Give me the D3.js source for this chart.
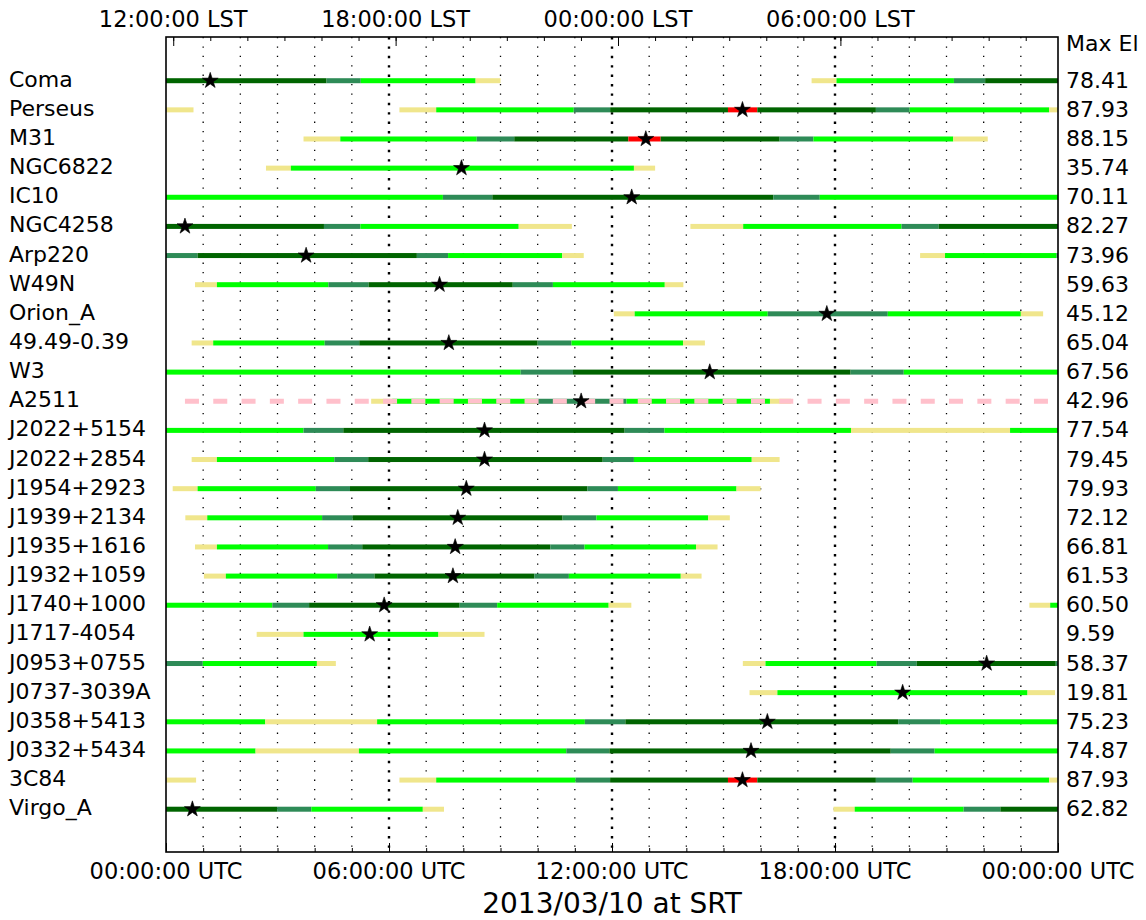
<!DOCTYPE html>
<html>
<head>
<meta charset="utf-8">
<script src="https://cdn.jsdelivr.net/npm/d3@7"></script>
<style>
    body { margin: 0; background: #fff; }
    svg { display: block; }
</style>
</head>
<body>
<svg id="chart" width="1146" height="920"></svg>
<script>
const LEFT = 166, RIGHT = 1058, TOP = 37, BOTTOM = 852

// sources, top to bottom
const sources = ["Coma", "Perseus", "M31", "NGC6822", "IC10", "NGC4258", "Arp220", "W49N", "Orion_A",
    "49.49-0.39", "W3", "A2511", "J2022+5154", "J2022+2854", "J1954+2923", "J1939+2134", "J1935+1616",
    "J1932+1059", "J1740+1000", "J1717-4054", "J0953+0755", "J0737-3039A", "J0358+5413", "J0332+5434",
    "3C84", "Virgo_A"]

const maxEl = ["78.41", "87.93", "88.15", "35.74", "70.11", "82.27", "73.96", "59.63", "45.12",
    "65.04", "67.56", "42.96", "77.54", "79.45", "79.93", "72.12", "66.81",
    "61.53", "60.50", "9.59", "58.37", "19.81", "75.23", "74.87",
    "87.93", "62.82"]

// transit time (UTC hours)
const transits = [1.19, 15.51, 12.91, 7.95, 12.53, 0.51, 3.77, 7.36, 17.78,
    7.61, 14.63, 11.17, 8.57, 8.57, 8.08, 7.85, 7.78,
    7.72, 5.87, 5.48, 22.08, 19.82, 16.18, 15.74,
    15.51, 0.71]

// visibility tracks: [start UTC h, end UTC h, elevation class]
// k = low, l = ok, s = high, d = very high, r = near zenith
const segments = [
    [[0, 4.32, "d"], [4.32, 5.24, "s"], [5.24, 8.33, "l"], [8.33, 9.0, "k"], [17.37, 18.04, "k"], [18.04, 21.20, "l"], [21.20, 22.04, "s"], [22.04, 24, "d"]],
    [[0, 0.74, "k"], [6.28, 7.27, "k"], [7.27, 10.97, "l"], [10.97, 11.95, "s"], [11.95, 15.12, "d"], [15.12, 15.91, "r"], [15.91, 19.10, "d"], [19.10, 20.01, "s"], [20.01, 23.76, "l"], [23.76, 24, "k"]],
    [[3.70, 4.69, "k"], [4.69, 8.36, "l"], [8.36, 9.37, "s"], [9.37, 12.44, "d"], [12.44, 13.31, "r"], [13.31, 16.51, "d"], [16.51, 17.42, "s"], [17.42, 21.18, "l"], [21.18, 22.11, "k"]],
    [[2.69, 3.36, "k"], [3.36, 12.59, "l"], [12.59, 13.16, "k"]],
    [[0, 7.45, "l"], [7.45, 8.78, "s"], [8.78, 16.34, "d"], [16.34, 17.59, "s"], [17.59, 24, "l"]],
    [[0, 4.25, "d"], [4.25, 5.23, "s"], [5.23, 9.49, "l"], [9.49, 10.92, "k"], [14.11, 15.53, "k"], [15.53, 19.79, "l"], [19.79, 20.79, "s"], [20.79, 24, "d"]],
    [[0, 0.85, "s"], [0.85, 6.75, "d"], [6.75, 7.59, "s"], [7.59, 10.66, "l"], [10.66, 11.24, "k"], [20.29, 20.96, "k"], [20.96, 23.96, "l"], [23.96, 24, "s"]],
    [[0.78, 1.37, "k"], [1.37, 4.37, "l"], [4.37, 5.45, "s"], [5.45, 9.33, "d"], [9.33, 10.41, "s"], [10.41, 13.42, "l"], [13.42, 13.92, "k"]],
    [[12.05, 12.61, "k"], [12.61, 16.19, "l"], [16.19, 19.42, "s"], [19.42, 23.00, "l"], [23.00, 23.60, "k"]],
    [[0.69, 1.27, "k"], [1.27, 4.27, "l"], [4.27, 5.20, "s"], [5.20, 10.00, "d"], [10.00, 10.91, "s"], [10.91, 13.91, "l"], [13.91, 14.50, "k"]],
    [[0, 9.54, "l"], [9.54, 10.95, "s"], [10.95, 18.42, "d"], [18.42, 19.85, "s"], [19.85, 24, "l"]],
    [[5.52, 6.09, "k"], [6.09, 9.95, "l"], [9.95, 12.39, "s"], [12.39, 16.25, "l"], [16.25, 16.82, "k"]],
    [[0, 3.70, "l"], [3.70, 4.77, "s"], [4.77, 12.34, "d"], [12.34, 13.41, "s"], [13.41, 18.43, "l"], [18.43, 22.71, "k"], [22.71, 24, "l"]],
    [[0.69, 1.37, "k"], [1.37, 4.53, "l"], [4.53, 5.44, "s"], [5.44, 11.75, "d"], [11.75, 12.59, "s"], [12.59, 15.76, "l"], [15.76, 16.51, "k"]],
    [[0.18, 0.85, "k"], [0.85, 4.03, "l"], [4.03, 4.95, "s"], [4.95, 11.34, "d"], [11.34, 12.16, "s"], [12.16, 15.35, "l"], [15.35, 16.0, "k"]],
    [[0.52, 1.11, "k"], [1.11, 4.20, "l"], [4.20, 5.02, "s"], [5.02, 10.67, "d"], [10.67, 11.58, "s"], [11.58, 14.59, "l"], [14.59, 15.17, "k"]],
    [[0.78, 1.37, "k"], [1.37, 4.36, "l"], [4.36, 5.28, "s"], [5.28, 10.34, "d"], [10.34, 11.26, "s"], [11.26, 14.26, "l"], [14.26, 14.84, "k"]],
    [[1.02, 1.61, "k"], [1.61, 4.61, "l"], [4.61, 5.61, "s"], [5.61, 9.91, "d"], [9.91, 10.84, "s"], [10.84, 13.85, "l"], [13.85, 14.41, "k"]],
    [[0, 2.86, "l"], [2.86, 3.85, "s"], [3.85, 7.90, "d"], [7.90, 8.91, "s"], [8.91, 11.91, "l"], [11.91, 12.52, "k"], [23.23, 23.79, "k"], [23.79, 24, "l"]],
    [[2.44, 3.70, "k"], [3.70, 7.33, "l"], [7.33, 8.57, "k"]],
    [[0, 0.99, "s"], [0.99, 4.06, "l"], [4.06, 4.57, "k"], [15.52, 16.13, "k"], [16.13, 19.12, "l"], [19.12, 20.20, "s"], [20.20, 23.94, "d"], [23.94, 24, "s"]],
    [[15.70, 16.45, "k"], [16.45, 23.18, "l"], [23.18, 23.92, "k"]],
    [[0, 2.67, "l"], [2.67, 5.68, "k"], [5.68, 11.27, "l"], [11.27, 12.36, "s"], [12.36, 19.70, "d"], [19.70, 20.83, "s"], [20.83, 24, "l"]],
    [[0, 2.41, "l"], [2.41, 5.19, "k"], [5.19, 10.77, "l"], [10.77, 11.93, "s"], [11.93, 19.50, "d"], [19.50, 20.68, "s"], [20.68, 24, "l"]],
    [[0, 0.81, "k"], [6.28, 7.27, "k"], [7.27, 11.02, "l"], [11.02, 11.95, "s"], [11.95, 15.12, "d"], [15.12, 15.91, "r"], [15.91, 19.10, "d"], [19.10, 20.09, "s"], [20.09, 23.76, "l"], [23.76, 24, "k"]],
    [[0, 2.99, "d"], [2.99, 3.91, "s"], [3.91, 6.91, "l"], [6.91, 7.48, "k"], [17.96, 18.53, "k"], [18.53, 21.46, "l"], [21.46, 22.45, "s"], [22.45, 24, "d"]]
]

// flagged source drawn with a pink dashed line over the whole day
const flagged = ["A2511"]
const flagStart = 0.51

const utcTicks = [0, 6, 12, 18, 24]
const utcTickLabels = ["00:00:00 UTC", "06:00:00 UTC", "12:00:00 UTC", "18:00:00 UTC", "00:00:00 UTC"]
const lstAtStart = 11.805   // LST (h) at 00:00 UTC
const siderealRate = 1.0027379
const lstTicks = [12, 18, 24, 30]
const lstTickLabels = ["12:00:00 LST", "18:00:00 LST", "00:00:00 LST", "06:00:00 LST"]
const title = "2013/03/10 at SRT"

const classColor = {k: "#f0e68c", l: "#00ff00", s: "#2e8b57", d: "#006400", r: "#ff0000"}
const FONT = "DejaVu Sans"

const svg = d3.select("#chart")

const xScale = d3.scaleLinear().domain([0, 24]).range([LEFT, RIGHT])
const lstScale = d3.scaleLinear()
    .domain([lstAtStart, lstAtStart + 24 * siderealRate])
    .range([LEFT, RIGHT])
const yScale = d3.scaleLinear().domain([-1.5, 26.5]).range([TOP, TOP + 28 * 29.14])

// dotted hour grid
const hours = d3.range(1, 24)
svg.append("g")
    .selectAll("line")
    .data(hours)
    .enter()
    .append("line")
    .attr("x1", d => xScale(d))
    .attr("x2", d => xScale(d))
    .attr("y1", TOP)
    .attr("y2", BOTTOM)
    .style("stroke", "#000")
    .style("stroke-width", d => d % 6 === 0 ? 2.4 : 1.3)
    .style("stroke-dasharray", d => d % 6 === 0 ? "2.4,7" : "1.3,8.1")

// tracks
const BAR = 5
segments.forEach(function (segs, i) {
    svg.append("g")
        .selectAll("rect")
        .data(segs)
        .enter()
        .append("rect")
        .attr("x", d => xScale(d[0]))
        .attr("width", d => xScale(d[1]) - xScale(d[0]))
        .attr("y", yScale(i) - BAR / 2)
        .attr("height", BAR)
        .style("fill", d => classColor[d[2]]);
})

// pink dashed overlay
flagged.forEach(function (name) {
    const i = sources.indexOf(name)
    svg.append("line")
        .attr("x1", xScale(flagStart))
        .attr("x2", xScale(24))
        .attr("y1", yScale(i))
        .attr("y2", yScale(i))
        .style("stroke", "#ffc0cb")
        .style("stroke-width", BAR)
        .style("stroke-dasharray", "14,14.3");
})

// transit stars
svg.append("g")
    .selectAll("path")
    .data(transits)
    .enter()
    .append("path")
    .attr("d", d3.symbol().type(d3.symbolStar).size(78))
    .attr("transform", (d, i) => `translate(${xScale(d)}, ${yScale(i)})`)
    .style("fill", "#000")
    .style("stroke", "#000")
    .style("stroke-width", 0.6);

// frame
svg.append("rect")
    .attr("x", LEFT)
    .attr("y", TOP)
    .attr("width", RIGHT - LEFT)
    .attr("height", BOTTOM - TOP)
    .style("fill", "none")
    .style("stroke", "#000")
    .style("stroke-width", 1.6);

// bottom UTC axis (ticks inward)
svg.append("g")
    .attr("transform", `translate(0, ${BOTTOM})`)
    .call(d3.axisTop(xScale).tickValues(d3.range(0, 25)).tickSize(4).tickFormat(""))
    .call(g => g.select(".domain").remove());
svg.append("g")
    .attr("transform", `translate(0, ${BOTTOM})`)
    .call(d3.axisTop(xScale).tickValues(utcTicks).tickSize(9).tickFormat(""))
    .call(g => g.select(".domain").remove());
svg.append("g")
    .selectAll("text")
    .data(utcTicks)
    .enter()
    .append("text")
    .attr("x", d => xScale(d))
    .attr("y", 879)
    .attr("text-anchor", "middle")
    .style("font-family", FONT)
    .style("font-size", "22.5px")
    .text((d, i) => utcTickLabels[i]);

// top LST axis (ticks inward)
const lstHours = d3.range(12, 36)
svg.append("g")
    .attr("transform", `translate(0, ${TOP})`)
    .call(d3.axisBottom(lstScale).tickValues(lstHours).tickSize(4).tickFormat(""))
    .call(g => g.select(".domain").remove());
svg.append("g")
    .attr("transform", `translate(0, ${TOP})`)
    .call(d3.axisBottom(lstScale).tickValues(lstTicks).tickSize(9).tickFormat(""))
    .call(g => g.select(".domain").remove());
svg.append("g")
    .selectAll("text")
    .data(lstTicks)
    .enter()
    .append("text")
    .attr("x", d => lstScale(d))
    .attr("y", 27)
    .attr("text-anchor", "middle")
    .style("font-family", FONT)
    .style("font-size", "22.5px")
    .text((d, i) => lstTickLabels[i]);

// source names
svg.append("g")
    .selectAll("text")
    .data(sources)
    .enter()
    .append("text")
    .attr("x", 9)
    .attr("y", (d, i) => yScale(i) + 6)
    .style("font-family", FONT)
    .style("font-size", "22px")
    .text(d => d);

// max elevation
svg.append("text")
    .attr("x", 1066)
    .attr("y", 51)
    .style("font-family", FONT)
    .style("font-size", "22px")
    .text("Max El");
svg.append("g")
    .selectAll("text")
    .data(maxEl)
    .enter()
    .append("text")
    .attr("x", 1066)
    .attr("y", (d, i) => yScale(i) + 7)
    .style("font-family", FONT)
    .style("font-size", "22px")
    .text(d => d);

// title
svg.append("text")
    .attr("x", (LEFT + RIGHT) / 2)
    .attr("y", 913)
    .attr("text-anchor", "middle")
    .style("font-family", FONT)
    .style("font-size", "28px")
    .text(title);
</script>
</body>
</html>
